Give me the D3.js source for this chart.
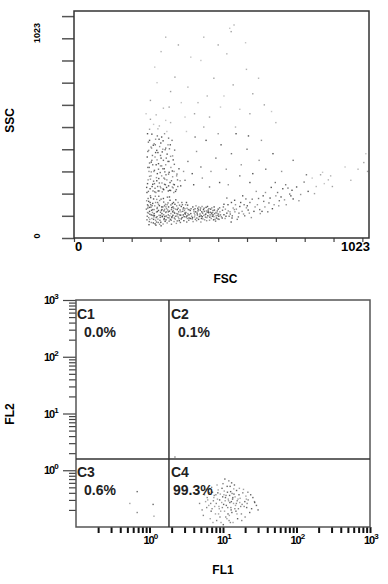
<!DOCTYPE html>
<html>
<head>
<meta charset="utf-8">
<script src="https://cdn.jsdelivr.net/npm/d3@7"></script>
<style>
  body { margin: 0; background: #fff; }
  svg { display: block; font-family: "Liberation Sans", Arial, sans-serif; font-weight: bold; }
</style>
</head>
<body>
<svg id="chart" width="388" height="584"></svg>
<script>
// FSC / SSC events, channel units (0-1023)
var fscSsc = [
  [262,120],[270,88],[255,150],[281,64],[295,102],[308,140],[276,176],[259,92],[288,133],[301,71],
  [318,115],[326,158],[340,96],[352,130],[265,190],[284,58],[297,169],[312,83],[331,121],[347,74],
  [360,108],[372,142],[258,112],[267,139],[279,101],[291,85],[303,124],[315,97],[323,68],[336,149],
  [349,112],[364,87],[377,120],[389,95],[252,168],[261,74],[273,156],[286,117],[299,93],[310,178],
  [321,132],[334,84],[345,160],[357,99],[368,126],[381,78],[395,110],[256,135],[268,104],[280,145],
  [292,70],[305,110],[317,152],[329,91],[342,118],[355,66],[366,148],[379,104],[392,134],[254,98],
  [266,182],[278,128],[290,160],[302,55],[314,129],[327,104],[339,137],[351,85],[363,118],[375,92],
  [387,150],[398,80],[260,60],[272,115],[285,92],[296,146],[309,63],[320,99],[333,170],[346,134],
  [358,77],[370,103],[383,124],[257,145],[269,125],[283,80],[294,188],[306,96],[319,140],[330,76],
  [343,102],[356,145],[369,70],[380,136],[393,88],[263,107],[275,68],[287,174],[300,116],[313,88],
  [325,126],[338,62],[350,152],[362,94],[374,160],[386,108],[399,128],[253,82],[264,160],[277,95],
  [251,130],[259,165],[263,84],[271,146],[274,102],[282,188],[286,72],[289,119],[293,152],[298,80],
  [304,140],[307,99],[311,162],[316,75],[320,118],[324,184],[328,140],[332,100],[337,80],[341,155],
  [344,124],[348,90],[353,172],[356,110],[361,134],[365,78],[371,118],[376,150],[382,96],[385,132],
  [391,72],[394,148],[397,104],[257,178],[262,138],[268,70],[273,128],[278,110],[283,160],[288,96],
  [293,124],[297,62],[302,175],[305,128],[311,105],[314,145],[319,82],[323,150],[327,118],[331,185],
  [336,110],[339,92],[343,140],[347,116],[352,98],[358,128],[361,160],[366,104],[372,86],[378,130],
  [384,112],[390,160],[255,115],[266,150],[276,84],[289,138],[300,102],[312,122],[324,92],[338,128],
  [405,110],[418,95],[430,122],[442,88],[455,105],[468,132],[480,98],[492,115],[503,84],[412,140],
  [425,78],[437,108],[449,128],[461,92],[473,116],[486,140],[498,102],[410,86],[422,118],[434,96],
  [446,112],[458,138],[470,80],[482,124],[494,90],[506,118],[415,128],[428,104],[440,72],[452,120],
  [464,100],[476,88],[488,110],[500,130],[408,98],[420,132],[432,84],[444,142],[456,94],[467,114],
  [479,106],[491,76],[502,98],[413,74],[426,90],[438,126],[450,102],[462,116],[474,130],[485,96],
  [497,122],[403,124],[417,112],[429,134],[441,100],[453,82],[465,126],[477,112],[489,84],[501,108],
  [392,100],[396,128],[388,115],[399,90],[511,96],[515,125],[520,105],[524,88],[518,140],[530,112],
  [400,105],[406,132],[411,92],[416,120],[421,84],[427,112],[433,140],[436,98],[443,118],[447,86],
  [451,134],[457,108],[460,78],[466,120],[471,94],[478,136],[483,104],[487,126],[493,100],[499,86],
  [404,88],[419,104],[431,128],[445,96],[459,122],[472,104],[484,82],[496,112],[508,104],[514,90],
  [423,145],[439,135],[463,142],[481,115],[505,136],[527,98],[535,122],[542,108],[548,90],[556,128],
  [258,210],[271,232],[284,205],[296,248],[309,221],[322,262],[335,214],[348,240],[262,278],[276,256],
  [289,290],[301,226],[315,298],[328,235],[342,276],[355,218],[255,245],[268,298],[281,224],[294,268],
  [306,208],[319,285],[333,250],[346,205],[359,262],[252,228],[265,265],[279,245],[292,212],[304,280],
  [317,240],[330,296],[344,226],[357,288],[370,235],[260,300],[274,212],[287,258],[299,232],[312,270],
  [253,205],[257,262],[261,318],[264,222],[267,280],[270,350],[273,242],[277,300],[280,208],[283,385],
  [286,272],[290,232],[293,335],[296,212],[299,295],[302,360],[305,248],[308,312],[311,218],[315,265],
  [318,405],[321,228],[325,345],[328,288],[332,215],[335,368],[338,258],[341,302],[345,242],[348,332],
  [352,210],[356,280],[360,232],[364,312],[368,258],[256,390],[262,440],[269,405],[282,420],[295,445],
  [308,400],[320,360],[334,420],[347,300],[273,330],[287,395],[300,325],[314,242],[327,212],[341,230],
  [256,318],[268,342],[281,365],[293,310],[306,388],[318,330],[331,402],[344,352],[259,395],[272,372],
  [285,330],[297,412],[310,350],[323,378],[336,318],[349,396],[254,365],[267,410],[279,305],[291,385],
  [304,325],[316,398],[329,345],[342,370],[262,338],[275,418],[288,352],[300,372],[313,312],[326,420],
  [258,432],[270,468],[283,445],[296,505],[309,438],[322,480],[335,520],[262,490],[276,512],[289,460],
  [301,428],[314,470],[328,450],[265,535],[278,425],[291,492],[304,455],[318,530],[340,440],[255,470],
  [525,130],[538,98],[546,160],[558,118],[566,84],[575,142],[588,108],[596,176],[604,126],[615,92],
  [530,180],[545,72],[560,150],[572,112],[585,190],[598,136],[610,160],[520,152],[552,135],[590,150],
  [534,150],[541,118],[549,100],[557,170],[563,130],[570,95],[578,160],[583,120],[592,100],[601,145],
  [608,112],[618,175],[624,120],[636,150],[644,128],[656,190],[662,140],[672,118],[680,180],[694,150],
  [706,205],[718,185],[730,172],[742,225],[752,190],
  [628,140],[640,178],[652,120],[664,205],[676,158],[688,132],[700,190],[712,168],[724,222],[736,150],
  [748,198],[760,176],[632,210],[658,165],[684,228],[710,145],[734,240],[756,215],[646,110],[698,250],
  [772,230],[786,196],[798,252],[812,210],[826,270],[840,232],[855,285],[868,245],[882,262],[896,232],
  [780,168],[806,285],[834,200],[862,296],[890,280],
  [265,620],[288,700],[310,585],[335,660],[280,770],[302,840],[350,725],[372,610],[395,680],[418,560],
  [440,800],[462,640],[485,720],[508,590],[530,830],[552,690],[575,580],[598,760],[620,650],[540,945],
  [555,960],[545,930],[250,560],[318,905],[362,870],[405,815],[450,905],[500,870],[595,880],[640,720],
  [470,545],[520,640],[285,555],[330,590],[385,545],[430,610],[610,560],[685,570],[700,520],[660,600],
  [380,300],[395,345],[410,290],[425,390],[440,320],[458,440],[475,300],[492,360],[510,420],[528,310],
  [546,380],[562,470],[580,330],[600,400],[620,290],[642,350],[665,310],[690,380],[390,480],[420,455],
  [450,500],[500,470],[560,500],[605,460],[650,440],[385,260],[415,240],[445,270],[470,230],[505,250],
  [535,240],[575,280],[610,250],[720,300],[760,350],
  [1005,340],[1012,380],[985,310],[1018,300],[940,320],[960,260]
];
var linTicks = [0,100,200,300,400,500,600,700,800,900,1000];

// FL1 / FL2 events, linear fluorescence values on log axes
var fl1Fl2 = [
  [10.2,0.25],[8.4,0.31],[12.8,0.22],[6.9,0.19],[14.6,0.34],[9.1,0.15],[11.5,0.41],[16.9,0.27],[7.6,0.36],[13.2,0.18],
  [5.8,0.28],[19.4,0.23],[10.8,0.33],[8.9,0.21],[12.1,0.13],[15.3,0.44],[6.4,0.24],[22.0,0.30],[9.7,0.48],[11.9,0.29],
  [17.8,0.17],[7.2,0.41],[13.9,0.26],[5.2,0.20],[24.5,0.21],[10.5,0.19],[8.1,0.26],[14.1,0.38],[20.5,0.35],[6.1,0.33],
  [12.5,0.52],[9.4,0.12],[16.2,0.21],[11.1,0.24],[7.9,0.17],[18.6,0.40],[13.5,0.31],[5.6,0.37],[10.0,0.58],[15.8,0.14],
  [8.6,0.45],[21.3,0.26],[12.3,0.36],[6.7,0.14],[26.8,0.28],[9.9,0.34],[14.8,0.24],[7.4,0.29],[11.7,0.17],[17.1,0.32],
  [4.8,0.26],[23.1,0.18],[10.4,0.43],[8.2,0.13],[13.0,0.28],[19.0,0.46],[6.0,0.22],[15.0,0.19],[9.2,0.38],[12.0,0.65],
  [28.5,0.24],[11.3,0.14],[7.0,0.50],[16.5,0.37],[10.7,0.29],[5.4,0.16],[14.3,0.55],[8.8,0.23],[20.0,0.15],[12.7,0.42],
  [9.6,0.27],[18.2,0.25],[6.5,0.40],[13.7,0.12],[11.0,0.36],[25.5,0.33],[7.7,0.23],[15.6,0.29],[10.1,0.11],[8.3,0.55],
  [21.8,0.41],[12.9,0.20],[6.2,0.30],[17.4,0.23],[9.0,0.30],[14.0,0.47],[11.6,0.22],[30.0,0.20],[7.3,0.12],[13.3,0.39],
  [10.6,0.70],[16.0,0.31],[8.0,0.37],[19.8,0.28],[12.2,0.16],[5.9,0.46],[23.8,0.37],[9.3,0.19],[15.2,0.26],[11.4,0.52],
  [7.5,0.33],[18.0,0.13],[13.6,0.33],[10.3,0.37],[6.8,0.26],[21.0,0.22],[8.7,0.17],[14.5,0.21],[12.4,0.27],[16.7,0.48],
  [9.8,0.22],[27.0,0.27],[11.8,0.31],[7.1,0.21],[13.1,0.60],[15.5,0.17],[10.9,0.15],[8.5,0.40],[20.8,0.31],[12.6,0.12],
  [0.68,0.42],[0.54,0.26],[0.68,0.18],[1.12,0.25],[1.15,0.155],[2.22,1.71]
];
var decades = [1, 10, 100, 1000];
var decadeExp = ["0", "1", "2", "3"];
var gateFL1 = 1.84, gateFL2 = 1.58;
var quadNames = ["C1", "C2", "C3", "C4"];
var quadPcts = ["0.0%", "0.1%", "0.6%", "99.3%"];

var svg = d3.select("#chart");

// ---------------- top plot: FSC / SSC
var tp = {left: 74, top: 11, width: 295, height: 227};
var gt = svg.append("g").attr("transform", "translate(" + tp.left + "," + tp.top + ")");

var x1 = d3.scaleLinear().domain([0, 1023]).range([0, tp.width]);
var y1 = d3.scaleLinear().domain([0, 1023]).range([tp.height, 0]);

gt.append("g")
    .call(d3.axisLeft(y1).tickValues(linTicks).tickSize(12).tickFormat(""))
    .call(function(g) {
      g.select(".domain").remove();
      g.selectAll(".tick line").attr("stroke", "#555").attr("stroke-width", 1.5);
    });

gt.append("g")
    .attr("transform", "translate(0," + tp.height + ")")
    .call(d3.axisBottom(x1).tickValues(linTicks).tickSize(4).tickFormat(""))
    .call(function(g) {
      g.select(".domain").remove();
      g.selectAll(".tick line").attr("stroke", "#444").attr("stroke-width", 1.2);
    });

// sparse events away from the main population print fainter
function dotOpacity(d, i) {
  var base = [0.8, 0.5, 0.65][i % 3];
  return (d[1] > 470 || d[0] > 820) ? base * 0.55 : base;
}

gt.selectAll(".dot")
  .data(fscSsc)
  .enter().append("rect")
    .attr("class", "dot")
    .attr("x", function(d) { return x1(d[0]) - 0.7 })
    .attr("y", function(d) { return y1(d[1]) - 0.7 })
    .attr("width", 1.4)
    .attr("height", 1.4)
    .attr("fill", "#2a2a2a")
    .attr("opacity", dotOpacity);

gt.append("rect")
    .attr("width", tp.width).attr("height", tp.height)
    .attr("fill", "none").attr("stroke", "#333").attr("stroke-width", 1.5);

gt.append("text").attr("x", 1).attr("y", tp.height + 13)
    .attr("font-size", 13).text("0");
gt.append("text").attr("x", tp.width + 1).attr("y", tp.height + 13)
    .attr("font-size", 13).attr("text-anchor", "end").text("1023");
gt.append("text").attr("transform", "translate(-34," + (y1(1023) + 22) + ") rotate(-90)")
    .attr("font-size", 9).attr("text-anchor", "middle").text("1023");
gt.append("text").attr("transform", "translate(-34," + (y1(0) - 2) + ") rotate(-90)")
    .attr("font-size", 9).attr("text-anchor", "middle").text("0");
gt.append("text").attr("x", tp.width / 2 + 4).attr("y", tp.height + 45)
    .attr("font-size", 12).attr("text-anchor", "middle").text("FSC");
gt.append("text").attr("transform", "translate(-60," + (tp.height / 2 - 4) + ") rotate(-90)")
    .attr("font-size", 12).attr("text-anchor", "middle").text("SSC");

// ---------------- bottom plot: FL1 / FL2 quadrants
var bp = {left: 76, top: 300, width: 294, height: 227};
var gb = svg.append("g").attr("transform", "translate(" + bp.left + "," + bp.top + ")");

var x2 = d3.scaleLog().domain([0.1, 1000]).range([0, bp.width]);
var y2 = d3.scaleLog().domain([0.1, 1000]).range([bp.height, 0]);

var minor = [];
decades.forEach(function(p) {
  for (var k = 1; k <= 9; k++) minor.push(p / 10 * k);
});
minor = minor.filter(function(v) { return v > 0.1 && decades.indexOf(v) < 0; });

gb.append("g")
    .call(d3.axisLeft(y2).tickValues(minor).tickSize(7).tickFormat(""))
    .call(function(g) {
      g.select(".domain").remove();
      g.selectAll(".tick line").attr("stroke", "#444").attr("stroke-width", 1.2);
    });
gb.append("g")
    .call(d3.axisLeft(y2).tickValues(decades).tickSize(13).tickFormat(""))
    .call(function(g) {
      g.select(".domain").remove();
      g.selectAll(".tick line").attr("stroke", "#444").attr("stroke-width", 1.2);
    });

gb.append("g")
    .attr("transform", "translate(0," + bp.height + ")")
    .call(d3.axisBottom(x2).tickValues(minor.concat(decades)).tickSize(6).tickFormat(""))
    .call(function(g) {
      g.select(".domain").remove();
      g.selectAll(".tick line").attr("stroke", "#111").attr("stroke-width", 2);
    });

gb.selectAll(".dot")
  .data(fl1Fl2)
  .enter().append("rect")
    .attr("class", "dot")
    .attr("x", function(d) { return x2(d[0]) - 0.7 })
    .attr("y", function(d) { return y2(d[1]) - 0.7 })
    .attr("width", 1.4)
    .attr("height", 1.4)
    .attr("fill", "#333")
    .attr("opacity", function(d, i) { return [0.75, 0.45, 0.6][i % 3] });

// frame + gates
gb.append("rect")
    .attr("width", bp.width).attr("height", bp.height)
    .attr("fill", "none").attr("stroke", "#555").attr("stroke-width", 1.5);
gb.append("line")
    .attr("x1", x2(gateFL1)).attr("x2", x2(gateFL1))
    .attr("y1", 0).attr("y2", bp.height)
    .attr("stroke", "#333").attr("stroke-width", 1.5);
gb.append("line")
    .attr("x1", 0).attr("x2", bp.width)
    .attr("y1", y2(gateFL2)).attr("y2", y2(gateFL2))
    .attr("stroke", "#333").attr("stroke-width", 1.5);

// quadrant labels
var qx = [1, x2(gateFL1) + 2, 1, x2(gateFL1) + 2];
var qy = [19, 19, y2(gateFL2) + 18, y2(gateFL2) + 18];
quadNames.forEach(function(name, i) {
  gb.append("text").attr("x", qx[i]).attr("y", qy[i])
      .attr("font-size", 14).attr("fill", "#222").text(name);
  gb.append("text").attr("x", qx[i] + (i === 3 ? 2 : 7)).attr("y", qy[i] + 18)
      .attr("font-size", 14).attr("fill", "#222").text(quadPcts[i]);
});

// decade labels
decades.forEach(function(v, i) {
  var ty = gb.append("text").attr("x", -32).attr("y", y2(v) + 4)
      .attr("font-size", 11).attr("letter-spacing", -1);
  ty.append("tspan").text("10");
  ty.append("tspan").attr("dy", -5).attr("font-size", 8).text(decadeExp[i]);

  var tx = gb.append("text").attr("x", x2(v) - 6).attr("y", bp.height + 17)
      .attr("font-size", 11).attr("letter-spacing", -1);
  tx.append("tspan").text("10");
  tx.append("tspan").attr("dy", -5).attr("font-size", 8).text(decadeExp[i]);
});

gb.append("text").attr("x", bp.width / 2).attr("y", bp.height + 47)
    .attr("font-size", 12).attr("text-anchor", "middle").text("FL1");
gb.append("text").attr("transform", "translate(-62," + (y2(gateFL2) - 45) + ") rotate(-90)")
    .attr("font-size", 12).attr("text-anchor", "middle").text("FL2");
</script>
</body>
</html>
